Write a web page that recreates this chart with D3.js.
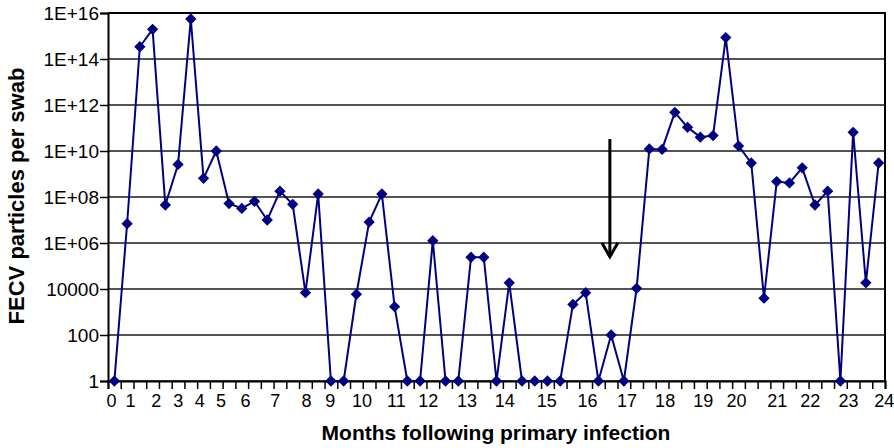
<!DOCTYPE html>
<html>
<head>
<meta charset="utf-8">
<script src="https://cdn.jsdelivr.net/npm/d3@7"></script>
<style>
  body { margin: 0; background: #fff; }
  svg text { font-family: "Liberation Sans", Arial, sans-serif; fill: #000; }
</style>
</head>
<body>
<svg id="chart"></svg>
<script>
  // FECV particles per swab, one value per sample (61 samples)
  var fecv = [
    1, 6.9e6, 3.4e14, 1.95e15, 4.5e7, 2.6e9, 5.5e15, 6.5e8, 1.0e10, 5.2e7,
    3.2e7, 6.5e7, 1.0e7, 1.8e8, 4.8e7, 6900, 1.35e8, 1, 1, 5900,
    8.1e6, 1.35e8, 1700, 1, 1, 1.26e6, 1, 1, 2.4e5, 2.4e5,
    1, 18600, 1, 1, 1, 1, 2140, 6900, 1, 100,
    1, 10700, 1.23e10, 1.17e10, 4.8e11, 1.07e11, 4.0e10, 4.7e10, 8.5e14, 1.66e10,
    3.0e9, 4000, 4.7e8, 4.1e8, 1.86e9, 4.5e7, 1.8e8, 1, 6.5e10, 18600,
    3.0e9
  ];

  // month labels and the sample index each month falls on
  var monthLabels = ["0","1","2","3","4","5","6","7","8","9","10","11","12",
                     "13","14","15","16","17","18","19","20","21","22","23","24"];
  var monthAt = [-0.27, 1.22, 3.24, 4.97, 6.66, 8.34, 10.25, 12.6, 15.04, 16.9,
                 19.4, 22.1, 24.6, 27.65, 30.6, 33.9, 37.1, 40.2, 43.2, 46.2,
                 48.8, 52.0, 54.6, 57.6, 60.4];

  var yTicks = [1, 100, 1e4, 1e6, 1e8, 1e10, 1e12, 1e14, 1e16];
  var yTickLabels = ["1", "100", "10000", "1E+06", "1E+08", "1E+10", "1E+12", "1E+14", "1E+16"];

  // arrow marking the intervention
  var arrowSample = 38.9, arrowFrom = 3.3e10, arrowTo = 2.5e5;

  var svgWidth = 894, svgHeight = 448;
  var margin = { top: 13, right: 9, bottom: 67, left: 108 };
  var width = svgWidth - margin.left - margin.right;
  var height = svgHeight - margin.top - margin.bottom;

  var svg = d3.select("#chart")
    .attr("width", svgWidth)
    .attr("height", svgHeight);

  var g = svg.append("g")
    .attr("transform", "translate(" + margin.left + "," + margin.top + ")");

  var x = d3.scaleLinear().domain([-0.5, fecv.length - 0.5]).range([0, width]);
  var y = d3.scaleLog().domain([1, 1e16]).range([height, 0]);

  // gridlines
  g.append("g")
    .selectAll("line")
    .data(yTicks)
    .enter()
    .append("line")
    .attr("x1", 0)
    .attr("x2", width)
    .attr("y1", function(d) { return y(d); })
    .attr("y2", function(d) { return y(d); })
    .attr("stroke", "#1a1a1a")
    .attr("stroke-width", 1.3);

  // plot border (top / right)
  g.append("path")
    .attr("d", "M0,0H" + width + "V" + height)
    .attr("fill", "none")
    .attr("stroke", "#000")
    .attr("stroke-width", 2);

  // y axis
  var yAxis = d3.axisLeft(y)
    .tickValues(yTicks)
    .tickFormat(function(d, i) { return yTickLabels[i]; })
    .tickSize(8)
    .tickPadding(1);

  var ya = g.append("g").call(yAxis);
  ya.select(".domain").attr("stroke-width", 2);
  ya.selectAll(".tick line").attr("stroke-width", 1.5);
  ya.selectAll(".tick text")
    .style("font-size", "19px");

  // x axis: tick marks between samples
  var bounds = d3.range(fecv.length + 1).map(function(i) { return i - 0.5; });
  var xAxis = d3.axisBottom(x)
    .tickValues(bounds)
    .tickFormat("")
    .tickSize(8);

  var xa = g.append("g")
    .attr("transform", "translate(0," + height + ")")
    .call(xAxis);
  xa.select(".domain").attr("stroke-width", 2);
  xa.selectAll(".tick line").attr("stroke-width", 1.5);

  // month labels
  var xLab = d3.axisBottom(x)
    .tickValues(monthAt)
    .tickFormat(function(d, i) { return monthLabels[i]; })
    .tickSize(0)
    .tickPadding(13);

  var xl = g.append("g")
    .attr("transform", "translate(0," + height + ")")
    .call(xLab);
  xl.select(".domain").remove();
  xl.selectAll(".tick text").style("font-size", "18px");

  // axis titles
  g.append("text")
    .attr("x", (320 + 672) / 2 - margin.left)
    .attr("y", height + 59)
    .attr("text-anchor", "middle")
    .style("font-size", "21px")
    .style("font-weight", "bold")
    .text("Months following primary infection");

  g.append("text")
    .attr("transform", "rotate(-90)")
    .attr("x", -(196 - margin.top))
    .attr("y", -84)
    .attr("text-anchor", "middle")
    .style("font-size", "22px")
    .style("font-weight", "bold")
    .text("FECV particles per swab");

  // data line
  var line = d3.line()
    .x(function(d, i) { return x(i); })
    .y(function(d) { return y(d); });

  g.append("path")
    .datum(fecv)
    .attr("fill", "none")
    .attr("stroke", "#000080")
    .attr("stroke-width", 2)
    .attr("stroke-linejoin", "round")
    .attr("d", line);

  g.selectAll(".pt")
    .data(fecv)
    .enter()
    .append("path")
    .attr("class", "pt")
    .attr("d", d3.symbol(d3.symbolSquare, 64))
    .attr("fill", "#000080")
    .attr("transform", function(d, i) {
      return "translate(" + x(i) + "," + y(d) + ") rotate(45)";
    });

  // arrow
  var ax = x(arrowSample), ay0 = y(arrowFrom), ay1 = y(arrowTo);
  g.append("line")
    .attr("x1", ax).attr("x2", ax)
    .attr("y1", ay0).attr("y2", ay1 - 1)
    .attr("stroke", "#000")
    .attr("stroke-width", 3);
  g.append("path")
    .attr("d", "M" + (ax - 8) + "," + (ay1 - 14) + "L" + ax + "," + ay1 + "L" + (ax + 8) + "," + (ay1 - 14))
    .attr("fill", "none")
    .attr("stroke", "#000")
    .attr("stroke-width", 3);
</script>
</body>
</html>
